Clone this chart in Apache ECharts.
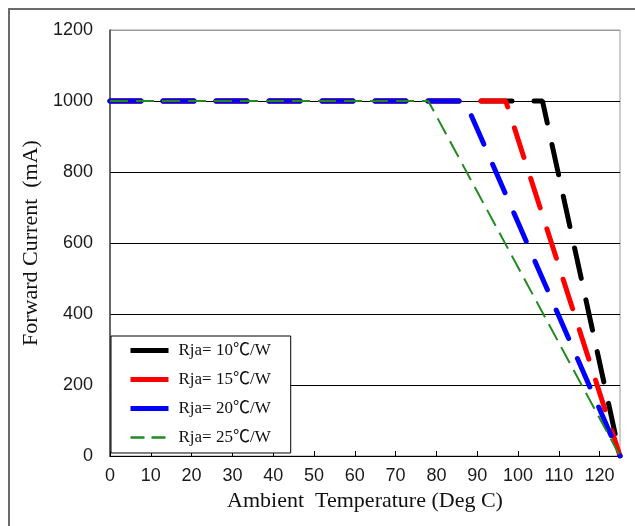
<!DOCTYPE html>
<html>
<head>
<meta charset="utf-8">
<script src="https://cdn.jsdelivr.net/npm/echarts@6/dist/echarts.min.js"></script>
<style>
  html, body { margin: 0; padding: 0; background: #fff; overflow: hidden; }
  #chart { position: absolute; left: 0; top: 0; width: 635px; height: 526px; }
</style>
</head>
<body>
<div id="chart"></div>
<script>
// ---- data ----
const seriesNames = ['Rja= 10\u2103/W', 'Rja= 15\u2103/W', 'Rja= 20\u2103/W', 'Rja= 25\u2103/W'];
const kneeTemps   = [106, 97, 87, 78];      // temperature where derating starts (Deg C)
const flatCurrent = 1000;                  // mA before knee
const startTemp   = 0;
const endTemp     = 125;                   // current reaches 0 here
const endCurrent  = 0;
const xTicks      = [0, 10, 20, 30, 40, 50, 60, 70, 80, 90, 100, 110, 120];
const yTicks      = [0, 200, 400, 600, 800, 1000, 1200];

const colors = ['#000000', '#ff0000', '#0000ff', '#1f8a1f'];
const widths = [5, 5, 5, 2];
const dashes = [[31, 22], [31, 22], [31, 22], [18, 8]];
const legendDash = ['solid', 'solid', 'solid', [14, 7]];
const legendWidth = [5, 5, 5, 2.5];

const series = seriesNames.map((name, i) => ({
  name: name,
  type: 'line',
  symbol: 'none',
  data: [[startTemp, flatCurrent], [kneeTemps[i], flatCurrent], [endTemp, endCurrent]],
  lineStyle: { color: colors[i], width: widths[i], type: dashes[i], cap: i < 3 ? 'round' : 'butt' },
  itemStyle: { color: colors[i] },
  z: 2 + i,
  animation: false
}));

const chart = echarts.init(document.getElementById('chart'), null, { renderer: 'canvas' });
chart.setOption({
  animation: false,
  graphic: [{
    type: 'rect', silent: true, z: 100,
    shape: { x: 624, y: 11, width: 20, height: 530 },
    style: { fill: '#ffffff' }
  }, {
    type: 'polyline', silent: true, z: 101,
    shape: { points: [[9, 530], [9, 9], [640, 9]] },
    style: { stroke: '#6a6a6a', lineWidth: 2, fill: null }
  }],
  grid: { left: 110, right: 15, top: 30, bottom: 70, show: true, borderColor: '#9a9a9a', borderWidth: 1 },
  xAxis: {
    type: 'value', min: startTemp, max: endTemp, interval: 10,
    name: 'Ambient  Temperature (Deg C)', nameLocation: 'middle', nameGap: 33,
    nameTextStyle: { fontFamily: "'Liberation Serif', serif", fontSize: 22, color: '#111' },
    axisLine: { show: true, lineStyle: { color: '#000', width: 1 } },
    axisTick: { show: true, inside: true, length: 5, lineStyle: { color: '#000' } },
    axisLabel: { showMaxLabel: false, margin: 11, fontFamily: "'Liberation Sans', Arial, sans-serif", fontSize: 18, color: '#1a1a1a' },
    splitLine: { show: false }
  },
  yAxis: {
    type: 'value', min: yTicks[0], max: yTicks[yTicks.length - 1], interval: 200,
    name: 'Forward Current  (mA)', nameLocation: 'middle', nameGap: 53, nameRotate: 90,
    nameTextStyle: { fontFamily: "'Liberation Serif', serif", fontSize: 22, color: '#111' },
    axisLine: { show: true, lineStyle: { color: '#444', width: 1.5 } },
    axisTick: { show: false },
    axisLabel: { margin: 17, fontFamily: "'Liberation Sans', Arial, sans-serif", fontSize: 18, color: '#1a1a1a',
                 formatter: v => String(v) },
    splitLine: { show: true, lineStyle: { color: ['#000', '#000', '#000', '#000', '#000', '#000', '#9a9a9a'], width: 1 } }
  },
  legend: {
    orient: 'vertical', left: 111, top: 336,
    backgroundColor: '#fff', borderColor: '#000', borderWidth: 1,
    padding: [6, 20, 7, 17],
    itemWidth: 38, itemHeight: 18, itemGap: 12,
    textStyle: { fontFamily: "'Liberation Serif', 'Noto Sans CJK SC', serif", fontSize: 17, color: '#111', padding: [0, 0, 0, 5] },
    data: seriesNames.map((n, i) => ({
      name: n,
      itemStyle: { color: 'rgba(0,0,0,0)', borderWidth: 0, opacity: 0 },
      lineStyle: { color: colors[i], width: legendWidth[i], type: legendDash[i], cap: 'butt' }
    })),
    z: 10
  },
  series: series
});
</script>
</body>
</html>
